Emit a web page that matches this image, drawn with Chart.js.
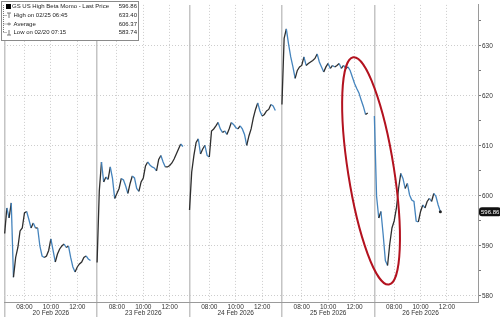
<!DOCTYPE html>
<html>
<head>
<meta charset="utf-8">
<script src="https://cdn.jsdelivr.net/npm/chart.js@4.4.1/dist/chart.umd.min.js"></script>
<style>
html, body { margin: 0; padding: 0; background: #fff; }
#wrap { width: 500px; height: 317px; }
</style>
</head>
<body>
<div id="wrap"><canvas id="momoChart" width="500" height="317"></canvas></div>
<script>
// session dates and tick labels
var days = ['20 Feb 2026', '23 Feb 2026', '24 Feb 2026', '25 Feb 2026', '26 Feb 2026'];
var timeLabels = ['08:00', '10:00', '12:00'];
var yTicks = [580, 585, 590, 595, 600, 605, 610, 615, 620, 625, 630, 635];

// prices every 10 minutes from 06:30, one array per session
var day1 = [592.5, 597.6, 595.6, 598.6, 583.74, 587.7, 589.7, 593.0, 593.6, 596.6,
            596.9, 595.3, 593.6, 594.6, 593.6, 593.6, 590.0, 588.0, 587.7, 588.0,
            589.1, 591.4, 589.1, 586.8, 588.4, 589.4, 590.0, 590.4, 589.7, 590.0,
            587.7, 585.8, 584.8, 585.8, 586.4, 586.8, 587.7, 588.0, 587.4, 587.1];
var day2 = [586.7, 601.0, 606.8, 602.8, 603.8, 603.3, 605.8, 603.5, 599.5, 600.5,
            601.5, 603.5, 603.2, 602.0, 600.5, 602.5, 604.0, 603.6, 601.5, 600.9,
            602.8, 603.6, 606.0, 606.8, 606.2, 605.8, 605.6, 605.0, 607.3, 608.1,
            606.8, 605.8, 605.8, 606.1, 606.6, 607.4, 608.4, 609.4, 610.4, 609.9];
var day3 = [597.2, 604.8, 608.1, 610.7, 611.4, 608.4, 609.4, 610.1, 608.1, 607.8,
            613.0, 613.4, 614.0, 614.7, 613.4, 612.7, 613.0, 612.3, 613.4, 614.7,
            614.3, 613.7, 613.4, 614.0, 613.4, 612.3, 610.1, 612.0, 613.4, 615.6,
            617.3, 618.6, 617.0, 616.0, 616.3, 617.0, 617.3, 618.3, 618.0, 617.1];
var day4 = [618.3, 631.5, 633.4, 630.4, 627.8, 625.8, 623.5, 625.1, 625.8, 626.1,
            627.8, 626.1, 626.5, 626.8, 627.1, 627.5, 628.4, 626.8, 625.8, 624.8,
            625.8, 626.5, 625.5, 626.1, 625.8, 626.1, 626.5, 625.5, 626.1, 625.5,
            625.8, 625.1, 623.8, 622.5, 621.5, 620.6, 619.2, 617.9, 616.3, 616.6];
var day5 = [616.0, 600.0, 595.6, 596.9, 592.3, 587.1, 586.1, 590.4, 593.6, 595.0,
            597.5, 601.5, 604.5, 603.5, 601.5, 602.5, 600.2, 599.2, 598.9, 595.0,
            594.8, 596.9, 598.2, 597.6, 598.9, 599.5, 598.9, 600.5, 599.9, 598.2,
            596.86];

var legendLabels = ['GS US High Beta Momo - Last Price', 'High on 02/25 06:45', 'Average', 'Low on 02/20 07:15'];
var legendValues = ['596.86', '633.40', '606.37', '583.74'];
var lastPrice = '596.86';

var FONT = '"Liberation Sans", Arial, sans-serif';
var UP = '#2e2e2e', DOWN = '#4584bd';

// x = hours since 06:30 on the first day, each session gets 7 hours
var sessions = [day1, day2, day3, day4, day5];
var points = [];
sessions.forEach(function(vals, d) {
    vals.forEach(function(v, i) { points.push({x: d * 7 + i / 6, y: v}); });
    if (d < sessions.length - 1) points.push({x: d * 7 + 6.75, y: null});
});

var xTicks = [];
days.forEach(function(day, d) {
    xTicks.push(d * 7);
    xTicks.push(d * 7 + 1.5, d * 7 + 3.5, d * 7 + 5.5);
});

function isDayLine(v) { return Math.abs(v / 7 - Math.round(v / 7)) < 1e-6; }

var overlay = {
    id: 'overlay',
    afterDraw: function(chart) {
        var c = chart.ctx, xs = chart.scales.x, ys = chart.scales.y;
        c.save();

        // red circle round the drop
        c.strokeStyle = '#b3121f';
        c.lineWidth = 2;
        c.beginPath();
        c.ellipse(xs.getPixelForValue(27.75), ys.getPixelForValue(605), 23, 115, -0.156, 0, Math.PI * 2);
        c.stroke();

        // last price tag
        var ty = ys.getPixelForValue(parseFloat(lastPrice));
        c.fillStyle = '#111';
        c.beginPath();
        c.roundRect(479, ty - 4.5, 22, 9, 3);
        c.fill();
        c.fillStyle = '#fff';
        c.font = '6px ' + FONT;
        c.textBaseline = 'middle';
        c.textAlign = 'left';
        c.fillText(lastPrice, 481, ty + 0.5);

        // legend box
        c.fillStyle = '#fff';
        c.fillRect(1.5, 1, 137, 40);
        c.strokeStyle = '#8a8a8a';
        c.lineWidth = 1;
        c.strokeRect(1.5, 1.5, 137, 39);

        var rows = [6.5, 15.5, 24, 32.5];
        c.fillStyle = '#000';
        c.fillRect(6, 4, 5, 5);
        c.strokeStyle = '#777';
        c.setLineDash([1, 1]);
        c.beginPath();
        c.moveTo(3.5, 5); c.lineTo(3.5, 33);
        c.moveTo(3.5, rows[1]); c.lineTo(7, rows[1]);
        c.moveTo(3.5, rows[2]); c.lineTo(7, rows[2]);
        c.moveTo(3.5, rows[3]); c.lineTo(7, rows[3]);
        c.stroke();
        c.setLineDash([]);
        c.beginPath();
        c.moveTo(7, rows[1] - 2.5); c.lineTo(11, rows[1] - 2.5);
        c.moveTo(9, rows[1] - 2.5); c.lineTo(9, rows[1] + 2.5);
        c.moveTo(7, rows[2]); c.lineTo(11, rows[2]);
        c.moveTo(9, rows[2] - 1.5); c.lineTo(9, rows[2] + 1.5);
        c.moveTo(9, rows[3] - 2.5); c.lineTo(9, rows[3] + 2.5);
        c.moveTo(7, rows[3] + 2.5); c.lineTo(11, rows[3] + 2.5);
        c.stroke();

        c.fillStyle = '#222';
        c.font = '6px ' + FONT;
        legendLabels.forEach(function(t, i) {
            c.textAlign = 'left';
            c.fillText(t, i === 0 ? 12 : 13.5, rows[i]);
            c.textAlign = 'right';
            c.fillText(legendValues[i], 137, rows[i]);
        });
        c.restore();
    }
};

var ctx = document.getElementById('momoChart');
var momoChart = new Chart(ctx, {
    type: 'line',
    data: {
        datasets: [{
            data: points,
            borderColor: DOWN,
            borderWidth: 1.3,
            tension: 0,
            pointRadius: function(c) { return c.dataIndex === points.length - 1 ? 1.5 : 0; },
            pointBackgroundColor: '#222',
            pointBorderWidth: 0,
            segment: {
                borderColor: function(s) { return s.p1.parsed.y >= s.p0.parsed.y ? UP : DOWN; }
            }
        }]
    },
    options: {
        responsive: false,
        animation: false,
        devicePixelRatio: 1,
        layout: { padding: 0 },
        plugins: { legend: { display: false }, tooltip: { enabled: false } },
        scales: {
            x: {
                type: 'linear',
                min: -0.05,
                max: 35.85,
                afterFit: function(s) { s.height = 15; },
                afterBuildTicks: function(s) { s.ticks = xTicks.map(function(v) { return {value: v}; }); },
                ticks: {
                    autoSkip: false,
                    maxRotation: 0,
                    padding: -13.6,
                    color: '#333',
                    font: { family: FONT, size: 6.5, lineHeight: 1.05 },
                    callback: function(v) {
                        var d = Math.floor(v / 7 + 1e-6), r = v - d * 7;
                        if (Math.abs(r - 1.5) < 1e-6) return timeLabels[0];
                        if (Math.abs(r - 3.5) < 1e-6) return [timeLabels[1], days[d]];
                        if (Math.abs(r - 5.5) < 1e-6) return timeLabels[2];
                        return '';
                    }
                },
                grid: {
                    color: function(c) { return c.tick && isDayLine(c.tick.value) ? '#c4c4c4' : '#cdcdcd'; },
                    lineWidth: function(c) { return c.tick && isDayLine(c.tick.value) ? 1.5 : 1; },
                    tickLength: 15,
                    tickColor: function(c) { return c.tick && isDayLine(c.tick.value) ? '#c4c4c4' : 'rgba(0,0,0,0)'; },
                    tickWidth: 1.5
                },
                border: {
                    color: '#9a9a9a',
                    width: 1,
                    dash: function(c) { return c.tick && !isDayLine(c.tick.value) ? [1, 2] : []; }
                }
            },
            y: {
                position: 'right',
                min: 578.8,
                max: 638.2,
                afterFit: function(s) { s.width = 22; },
                afterBuildTicks: function(s) { s.ticks = yTicks.map(function(v) { return {value: v}; }); },
                ticks: {
                    padding: 1,
                    color: '#333',
                    font: { family: FONT, size: 6.5 },
                    callback: function(v) { return v % 10 === 0 ? String(v) : ''; }
                },
                grid: {
                    color: function(c) { return c.tick && c.tick.value % 10 === 0 ? '#cdcdcd' : 'rgba(0,0,0,0)'; },
                    tickLength: 3,
                    tickColor: '#777',
                    tickWidth: 1
                },
                border: {
                    color: '#9a9a9a',
                    width: 1,
                    dash: [1, 2]
                }
            }
        }
    },
    plugins: [overlay]
});
</script>
</body>
</html>
